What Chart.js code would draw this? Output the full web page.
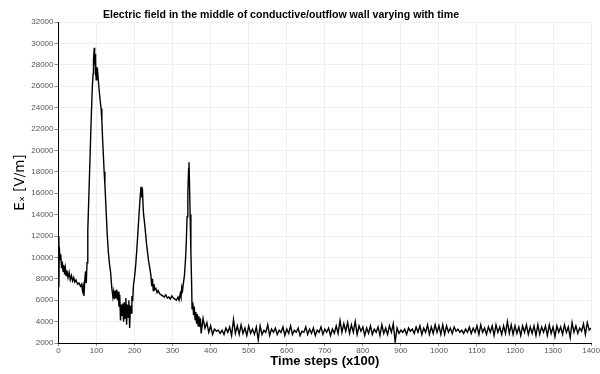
<!DOCTYPE html>
<html>
<head>
<meta charset="utf-8">
<script src="https://cdn.jsdelivr.net/npm/chart.js@4"></script>
<style>
  html, body { margin: 0; padding: 0; background: #fff; }
  #wrap { width: 600px; height: 374px; }
</style>
</head>
<body>
<div id="wrap"><canvas id="fieldChart" width="600" height="374"></canvas></div>
<script>
// ===============================
// DATA
// ===============================
const chartTitle = "Electric field in the middle of conductive/outflow wall varying with time";
const xTitle = "Time steps (x100)";
const yTitle = "E\u2093 [V/m]";

// transient part: three pulses (time step x100, field in V/m)
const pulseSteps = [
  0, 1, 2, 4, 6, 8, 10, 12, 14, 16, 18, 20, 22, 25, 28, 31, 34, 37, 40, 43,
  46, 50, 54, 58, 61, 63, 65, 67, 69, 71, 73, 75, 77, 80, 83, 86, 89, 91, 92, 94,
  95, 96, 97, 98, 99, 100, 101, 103, 106, 109, 112, 114, 116, 118, 120, 122, 125, 128, 131, 134,
  137, 140, 143, 145, 147, 149, 151, 153, 155, 157, 159, 161, 163, 165, 167, 169, 171, 173, 175, 177,
  179, 181, 183, 185, 187, 189, 191, 193, 195, 197, 200, 203, 206, 209, 212, 215, 217, 219, 221, 223,
  225, 228, 231, 234, 237, 240, 243, 245, 247, 249, 251, 253, 256, 259, 262, 266, 270, 274, 278, 282,
  286, 290, 294, 298, 302, 306, 310, 314, 317, 320, 322, 324, 326, 328, 331, 334, 336, 338, 340, 342,
  343, 344, 346, 348, 350, 351, 353, 355, 357, 359, 361, 363, 365, 367, 369, 371, 373, 375
];
const pulseValues = [
  12000, 7200, 11000, 9800, 10300, 9000, 9600, 8700, 9300, 8400, 9000, 8300, 8800, 8100, 8600, 7900, 8300, 7800, 8100, 7700,
  7900, 7500, 7600, 7300, 7500, 6900, 7300, 6400, 7800, 8700, 7600, 9500, 12500, 16000, 19500, 23000, 26000, 27200, 28500, 29600,
  28000, 29000, 27000, 28400, 26600, 27800, 26800, 27300, 26000, 24800, 23900, 22800, 21000, 19500, 18000, 16800, 14500, 12200, 10500, 9400,
  8600, 7200, 6300, 6800, 6100, 6900, 6200, 7000, 6000, 6800, 5400, 6500, 4100, 5600, 4600, 5700, 4000, 5800, 4300, 6200,
  3700, 5600, 4400, 6000, 3400, 5500, 4800, 6400, 5900, 7400, 8200, 9300, 10800, 12500, 14200, 15800, 16600, 15600, 16000, 14300,
  13600, 12600, 11400, 10500, 9600, 9000, 8300, 7300, 8000, 6900, 7500, 7000, 7100, 6700, 6900, 6600, 6500, 6400, 6300, 6500,
  6200, 6300, 6100, 6400, 6200, 6100, 6000, 6300, 6000, 6600, 6300, 7200, 6900, 7500, 8300, 9900, 11500, 13800, 16000, 18300,
  18900, 17500, 14000, 10500, 7500, 5200, 5800, 4600, 5400, 4200, 4900, 3800, 4700, 3600, 4500, 3500, 4300, 2900
];

// settled part: sampled every 5 steps from step 380 to 1400
const settledStart = 380;
const settledEvery = 5;
const settledValues = [
  4300, 3400, 3900, 3000, 3600, 2800, 3300, 3100, 3200, 2900,
  3200, 2800, 3400, 3000, 3500, 2700, 4200, 2900, 3600, 2800,
  3700, 2900, 3400, 2700, 3600, 2900, 3300, 2800, 3500, 2300,
  3600, 2800, 3200, 3000, 3700, 2700, 3300, 3000, 3400, 2800,
  3200, 3000, 3500, 2700, 3300, 2900, 3600, 2800, 3200, 3000,
  3400, 2700, 3100, 3000, 3500, 2800, 3300, 2900, 3400, 2700,
  3200, 3000, 3500, 2800, 3300, 3000, 3400, 2700, 3300, 2900,
  3600, 2900, 4100, 3000, 3800, 3100, 3900, 2900, 3700, 3000,
  4000, 2800, 3600, 3100, 3500, 2700, 3400, 2900, 3600, 2800,
  3300, 3000, 3500, 2700, 3700, 2900, 3400, 2800, 3600, 3000,
  3800, 2100, 3400, 2900, 3200, 3000, 3300, 2800, 3400, 3100,
  3300, 2900, 3500, 3000, 3600, 2800, 3400, 3000, 3700, 2800,
  3500, 2900, 3700, 3000, 3600, 2800, 3700, 2800, 3600, 3000,
  3400, 2900, 3500, 3100, 3300, 3000, 3200, 2900, 3300, 3000,
  3500, 2900, 3400, 3000, 3600, 2800, 3700, 3000, 3400, 2800,
  3500, 3000, 3600, 2700, 3700, 3000, 3500, 2800, 3600, 2900,
  4000, 2900, 3700, 2800, 3600, 2900, 3500, 2700, 3600, 3000,
  3700, 2800, 3500, 2900, 3600, 2700, 3700, 2800, 3500, 3000,
  3600, 2700, 3700, 2900, 3500, 2600, 3600, 3000, 3500, 2800,
  3700, 3000, 3500, 2500, 3900, 3000, 3600, 2900, 3400, 3100,
  3800, 2800, 3900, 3200, 3400
];

const xMin = 0, xMax = 1400, xStep = 100;
const yMin = 2000, yMax = 32000, yStep = 2000;

// ===============================
// BUILD POINTS
// ===============================
const points = pulseSteps.map((s, i) => ({ x: s, y: pulseValues[i] }));
settledValues.forEach((v, i) => {
  points.push({ x: settledStart + i * settledEvery, y: v });
});

const tickFont = { family: "Liberation Sans", size: 8 };
const tickColor = "#555";
const gridColor = "#efefef";

// title sits a bit left of the canvas centre
const titlePlugin = {
  id: "plotTitle",
  afterDraw(chart) {
    const ctx = chart.ctx;
    ctx.save();
    ctx.font = "bold 10.6px 'Liberation Sans'";
    ctx.fillStyle = "#000";
    ctx.textAlign = "center";
    ctx.textBaseline = "middle";
    ctx.fillText(chartTitle, 281, 15);
    ctx.restore();
  },
};

new Chart(document.getElementById("fieldChart"), {
  type: "line",
  data: {
    datasets: [
      {
        data: points,
        borderColor: "#000",
        borderWidth: 1.4,
        pointRadius: 0,
        tension: 0,
        fill: false,
      },
    ],
  },
  options: {
    responsive: false,
    animation: false,
    layout: { padding: { left: 0, right: 3, top: 22, bottom: 0 } },
    plugins: {
      legend: { display: false },
      tooltip: { enabled: false },
      title: { display: false },
    },
    scales: {
      x: {
        type: "linear",
        min: xMin,
        max: xMax,
        afterFit: (scale) => { scale.height = 31; },
        ticks: {
          stepSize: xStep,
          color: tickColor,
          font: tickFont,
          padding: 0,
          maxRotation: 0,
          callback: (v) => String(v),
        },
        grid: { color: gridColor, tickLength: 3, tickColor: "#888" },
        border: { color: "#000", width: 1 },
        title: {
          display: true,
          text: xTitle,
          color: "#000",
          font: { family: "Liberation Sans", size: 13, weight: "bold", lineHeight: 1.2 },
          padding: { top: 0, bottom: 5.2 },
        },
      },
      y: {
        type: "linear",
        min: yMin,
        max: yMax,
        afterFit: (scale) => { scale.width = 58.5; },
        ticks: {
          stepSize: yStep,
          color: tickColor,
          font: tickFont,
          padding: 1,
          callback: (v) => String(v),
        },
        grid: { color: gridColor, tickLength: 4, tickColor: "#888" },
        border: { color: "#000", width: 1 },
        title: {
          display: true,
          text: yTitle,
          color: "#000",
          font: { family: "DejaVu Sans", size: 13.5, lineHeight: 1.2 },
          padding: { top: 12.6, bottom: 0 },
        },
      },
    },
  },
  plugins: [titlePlugin],
});
</script>
</body>
</html>
